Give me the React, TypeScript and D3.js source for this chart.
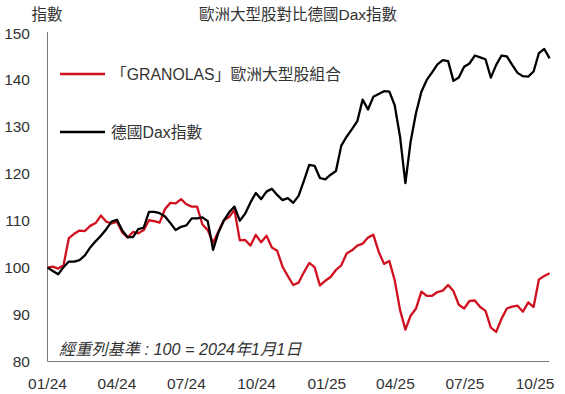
import React from "react";
import * as d3 from "d3";

const startDate = "2024-01-01";
const endDate = "2025-10-20";
const tickDates = ["2024-01-01", "2024-04-01", "2024-07-01", "2024-10-01", "2025-01-01", "2025-04-01", "2025-07-01", "2025-10-01"];
const yTicks = [80, 90, 100, 110, 120, 130, 140, 150];

// weekly observations starting 2024-01-01
const daxValues = [
  100, 99.3, 98.6, 100.1, 101.3, 101.3, 101.6, 102.6, 104.3, 105.6,
  106.8, 108.2, 109.8, 110.2, 107.9, 106.5, 106.5, 108.2, 108.5, 111.9,
  111.9, 111.6, 110.9, 109.5, 108.0, 108.7, 109.0, 110.5, 110.5, 110.7,
  109.9, 103.8, 107.5, 110.0, 111.8, 113.0, 110.0, 111.5, 113.9, 115.9,
  114.6, 116.2, 116.8, 115.5, 114.4, 114.8, 113.8, 115.3, 118.5, 121.9,
  121.7, 119.1, 118.8, 119.8, 120.6, 126.0, 127.9, 129.5, 131.2, 135.8,
  133.7, 136.4, 137.0, 137.6, 137.5, 134.6, 127.9, 118.0, 127.0, 133.0,
  137.5, 140.0, 141.6, 143.3, 144.2, 144.0, 139.8, 140.5, 142.8, 143.5,
  145.2, 144.8, 144.4, 140.5, 143.2, 145.2, 145.0, 143.2, 141.5, 140.8,
  140.7, 141.8, 145.7, 146.6, 144.6,
];

const granolasValues = [
  100, 100.2, 99.8, 100.5, 106.3, 107.2, 107.9, 107.8, 108.9, 109.5,
  111.1, 109.8, 109.4, 109.8, 107.5, 106.4, 107.6, 107.3, 108.0, 110.1,
  109.9, 109.6, 112.5, 113.8, 113.7, 114.6, 113.5, 113.0, 113.0, 109.2,
  108.0, 105.3, 107.7, 110.1, 110.8, 112.3, 105.8, 105.9, 104.7, 107.0,
  105.4, 106.8, 104.3, 103.6, 100.2, 98.2, 96.3, 96.8, 99.0, 101.0,
  100.1, 96.2, 97.2, 98.0, 99.5, 100.5, 103.0, 103.7, 104.7, 105.1,
  106.4, 107.0, 103.4, 100.8, 101.4, 97.3, 91.0, 86.8, 89.8, 91.3,
  94.9, 94.0, 94.0, 94.8, 95.1, 96.3, 95.0, 92.1, 91.3, 92.9,
  93.0, 91.6, 90.8, 87.2, 86.3, 89.1, 91.3, 91.7, 91.9, 90.6,
  92.6, 91.6, 97.5, 98.2, 98.8,
];

const titleText = "歐洲大型股對比德國Dax指數";
const yTitle = "指數";
const legendGranolas = "「GRANOLAS」歐洲大型股組合";
const legendDax = "德國Dax指數";
const noteText = "經重列基準 : 100 = 2024年1月1日";

const parse = d3.timeParse("%Y-%m-%d");
const fmt = d3.timeFormat("%m/%y");

export default function App() {
  const start = parse(startDate) as Date;
  const end = parse(endDate) as Date;
  const x = d3.scaleTime().domain([start, end]).range([47.5, 549.6]);
  const y = d3.scaleLinear().domain([80, 150]).range([361.5, 33]);
  const dateAt = (i: number) => d3.timeDay.offset(start, 7 * i);
  const line = d3
    .line<number>()
    .x((_, i) => x(dateAt(i)))
    .y((v) => y(v));

  const font = "'Liberation Sans', Arial, 'Noto Sans CJK TC', sans-serif";
  const textColor = "#333";
  const red = "#d0101e";

  return (
    <svg
      width={565}
      height={394}
      style={{ position: "absolute", left: 0, top: 0, background: "#fff" }}
      fontFamily={font}
    >
      <text x={298} y={20} textAnchor="middle" fontSize={15.5} fill={textColor}>
        {titleText}
      </text>
      <text x={47} y={20} textAnchor="middle" fontSize={15.5} fill={textColor}>
        {yTitle}
      </text>

      {yTicks.map((t) => (
        <text key={t} x={30} y={y(t) + 5.5} textAnchor="end" fontSize={15.5} fill={textColor}>
          {t}
        </text>
      ))}
      {tickDates.map((d) => {
        const dt = parse(d) as Date;
        return (
          <text key={d} x={x(dt)} y={388.5} textAnchor="middle" fontSize={15.5} fill={textColor}>
            {fmt(dt)}
          </text>
        );
      })}

      <line x1={47.5} x2={47.5} y1={32} y2={361.5} stroke="#777" strokeWidth={1} />
      <line x1={47.5} x2={549} y1={361.5} y2={361.5} stroke="#777" strokeWidth={1} />

      <path d={line(granolasValues) || ""} fill="none" stroke={red} strokeWidth={2.3} strokeLinejoin="round" />
      <path d={line(daxValues) || ""} fill="none" stroke="#000" strokeWidth={2.3} strokeLinejoin="round" />

      <line x1={60} x2={105} y1={74} y2={74} stroke={red} strokeWidth={2.5} />
      <text x={111} y={79.5} fontSize={15.8} fill={textColor}>
        {legendGranolas}
      </text>
      <line x1={60} x2={105} y1={132} y2={132} stroke="#000" strokeWidth={2.5} />
      <text x={111} y={137.5} fontSize={15.8} fill={textColor}>
        {legendDax}
      </text>

      <text x={59} y={355} fontSize={16.2} fontStyle="italic" fill={textColor}>
        {noteText}
      </text>
    </svg>
  );
}
